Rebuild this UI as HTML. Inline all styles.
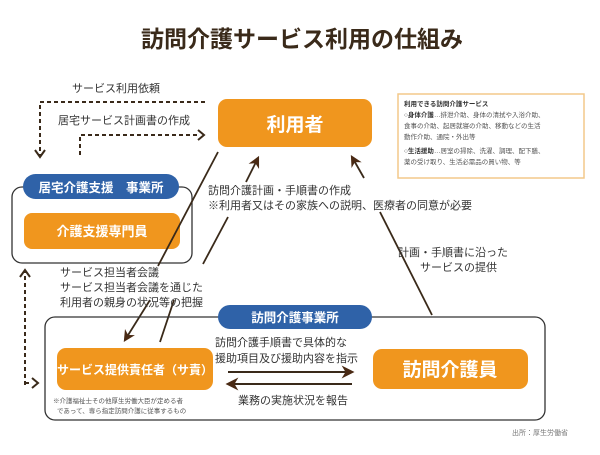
<!DOCTYPE html>
<html><head><meta charset="utf-8"><style>
body{margin:0;background:#fff;}
svg text{font-family:"Liberation Sans","Noto Sans CJK JP",sans-serif;}
</style></head><body>
<svg width="600" height="450" viewBox="0 0 600 450" xmlns="http://www.w3.org/2000/svg">
<defs>
<marker id="ah" viewBox="0 0 10 10" refX="8" refY="5" markerWidth="6.5" markerHeight="6.5" orient="auto"><path d="M0,0 L10,5 L0,10 L3,5 z" fill="#4a2a14"/></marker>
</defs>
<text x="302" y="47" text-anchor="middle" font-size="23" font-weight="bold" fill="#3a2a1a">訪問介護サービス利用の仕組み</text>

<!-- info box -->
<rect x="398" y="94" width="186" height="84" fill="#fff" stroke="#f3c98a" stroke-width="1.5"/>
<g font-size="6.5" fill="#555">
<text x="404" y="106" font-weight="bold" fill="#333">利用できる訪問介護サービス</text>
<text x="404" y="117"><tspan font-weight="bold" fill="#333">○身体介護</tspan>…排泄介助、身体の清拭や入浴介助、</text>
<text x="404" y="128">食事の介助、起居就寝の介助、移動などの生活</text>
<text x="404" y="139">動作介助、通院・外出等</text>
<text x="404" y="153"><tspan font-weight="bold" fill="#333">○生活援助</tspan>…居室の掃除、洗濯、調理、配下膳、</text>
<text x="404" y="164">薬の受け取り、生活必需品の買い物、等</text>
</g>

<!-- 利用者 -->
<rect x="218" y="99" width="154" height="48" rx="9" fill="#f0961e"/>
<text x="295" y="131" text-anchor="middle" font-size="19" font-weight="bold" fill="#fff">利用者</text>

<!-- dashed arrows -->
<g stroke="#3a2a1a" stroke-width="2" stroke-dasharray="4,3" fill="none">
<path d="M205,102 H40 V155"/>
<path d="M80,155 V135 H200"/>
<path d="M25,385 V272"/>
<path d="M25,383 H32"/>
</g>
<g stroke="#3a2a1a" stroke-width="2" fill="none">
<path d="M35,150 L40,157 L45,150"/>
<path d="M198,130 L204,135 L198,140"/>
<path d="M20,277 L25,270 L30,277"/>
<path d="M32,378 L38,383 L32,388"/>
</g>
<text x="72" y="92" font-size="11" fill="#333">サービス利用依頼</text>
<text x="58" y="124" font-size="11" fill="#333">居宅サービス計画書の作成</text>

<!-- left group -->
<rect x="12" y="187" width="180" height="76" rx="10" fill="none" stroke="#333" stroke-width="1.3"/>
<rect x="23" y="174" width="156" height="25" rx="12.5" fill="#2f62a8"/>
<text x="101" y="192" text-anchor="middle" font-size="12.5" font-weight="bold" fill="#fff">居宅介護支援　事業所</text>
<rect x="24" y="213" width="156" height="36" rx="8" fill="#f0961e"/>
<text x="102" y="236" text-anchor="middle" font-size="13" font-weight="bold" fill="#fff">介護支援専門員</text>

<!-- diagonal lines -->
<g stroke="#3a2a1a" stroke-width="1.8" fill="none">
<line x1="218" y1="152" x2="158" y2="266"/>
<line x1="246" y1="182" x2="258" y2="158" marker-end="url(#ah)"/>
<line x1="228" y1="217" x2="203" y2="264"/>
<line x1="364" y1="178" x2="352" y2="157" marker-end="url(#ah)"/>
<line x1="380" y1="212" x2="432" y2="315"/>
<line x1="150" y1="300" x2="125" y2="340" marker-end="url(#ah)"/>
<line x1="174" y1="300" x2="160" y2="342"/>
</g>
<text x="208" y="194" font-size="11" fill="#333">訪問介護計画・手順書の作成</text>
<text x="208" y="209" font-size="11" fill="#333">※利用者又はその家族への説明、医療者の同意が必要</text>
<text x="60" y="276" font-size="11" fill="#333">サービス担当者会議</text>
<text x="60" y="291" font-size="11" fill="#333">サービス担当者会議を通じた</text>
<text x="60" y="306" font-size="11" fill="#333">利用者の親身の状況等の把握</text>
<text x="398" y="256" font-size="11" fill="#333">計画・手順書に沿った</text>
<text x="420" y="271" font-size="11" fill="#333">サービスの提供</text>

<!-- bottom group -->
<rect x="45" y="317" width="500" height="103" rx="10" fill="none" stroke="#333" stroke-width="1.3"/>
<rect x="218" y="305" width="154" height="24" rx="12" fill="#2f62a8"/>
<text x="295" y="322" text-anchor="middle" font-size="12.5" font-weight="bold" fill="#fff">訪問介護事業所</text>
<rect x="57" y="348" width="156" height="42" rx="9" fill="#f0961e"/>
<text x="135" y="374" text-anchor="middle" font-size="12" font-weight="bold" fill="#fff">サービス提供責任者（サ責）</text>
<text x="53" y="403" font-size="6.5" fill="#555">※介護福祉士その他厚生労働大臣が定める者</text>
<text x="57" y="413" font-size="6.5" fill="#555">であって、専ら指定訪問介護に従事するもの</text>
<rect x="373" y="349" width="155" height="40" rx="9" fill="#f0961e"/>
<text x="450" y="376" text-anchor="middle" font-size="19" font-weight="bold" fill="#fff">訪問介護員</text>
<text x="215" y="346" font-size="11" fill="#333">訪問介護手順書で具体的な</text>
<text x="215" y="362" font-size="11" fill="#333">援助項目及び援助内容を指示</text>
<g stroke="#3a2a1a" stroke-width="2" fill="none">
<line x1="228" y1="372" x2="352" y2="372" marker-end="url(#ah)"/>
<line x1="352" y1="384" x2="228" y2="384" marker-end="url(#ah)"/>
</g>
<text x="238" y="404" font-size="11" fill="#333">業務の実施状況を報告</text>
<text x="512" y="435" font-size="7" fill="#777">出所：厚生労働省</text>
</svg>
</body></html>
